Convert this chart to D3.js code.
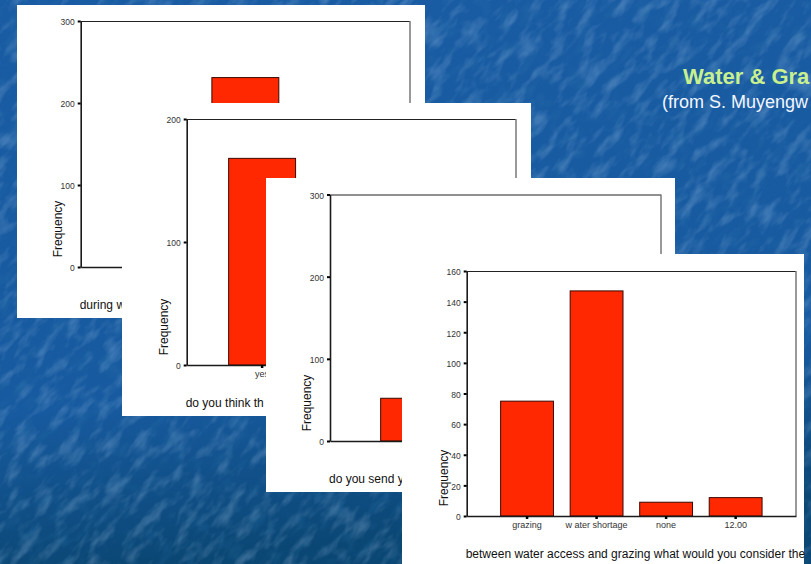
<!DOCTYPE html>
<html>
<head>
<meta charset="utf-8">
<script src="https://cdn.jsdelivr.net/npm/d3@7"></script>
<style>
  html, body { margin: 0; padding: 0; background: #1a5ca4; overflow: hidden; }
  svg { display: block; }
  text { font-family: "Liberation Sans", Arial, sans-serif; }
</style>
</head>
<body>
<svg id="chart" width="811" height="564"></svg>
<script>
// ---------- data ----------
const slideTitle = "Water & Gra";
const slideSubtitle = "(from S. Muyengw";

// chart 1 (back)
const c1Categories = ["c1", "c2", "c3"];
const c1Labels = ["", "", ""];
const c1Values = [12, 231, null];
const c1Ticks = [0, 100, 200, 300];
const c1Title = "during w";

// chart 2
const c2Categories = ["yes", "c2", "c3"];
const c2Labels = ["yes", "", ""];
const c2Values = [168, null, null];
const c2Ticks = [0, 100, 200];
const c2Title = "do you think th";

// chart 3
const c3Categories = ["c1", "c2"];
const c3Labels = ["", ""];
const c3Values = [52, null];
const c3Ticks = [0, 100, 200, 300];
const c3Title = "do you send y";

// chart 4 (front)
const c4Categories = ["grazing", "w ater shortage", "none", "12.00"];
const c4Labels = ["grazing", "w ater shortage", "none", "12.00"];
const c4Values = [75, 147, 9, 12];
const c4Ticks = [0, 20, 40, 60, 80, 100, 120, 140, 160];
const c4Title = "between water access and grazing what would you consider the";

// ---------- layout (styles / positions) ----------
const panels = [
  { cats: c1Categories, labels: c1Labels, vals: c1Values, ticks: c1Ticks, title: c1Title,
    card: [17, 5, 425, 318], plot: [80.7, 21, 410, 267], pi: 0.25, po: 0.47 },
  { cats: c2Categories, labels: c2Labels, vals: c2Values, ticks: c2Ticks, title: c2Title,
    card: [122, 103, 531, 416], plot: [186.7, 119, 516, 365], pi: 0.25, po: 0.47 },
  { cats: c3Categories, labels: c3Labels, vals: c3Values, ticks: c3Ticks, title: c3Title,
    card: [266, 178, 675, 492], plot: [330, 194.5, 661, 441], pi: 0.25, po: 0.386 },
  { cats: c4Categories, labels: c4Labels, vals: c4Values, ticks: c4Ticks, title: c4Title,
    card: [402, 254, 804, 570], plot: [466.7, 271, 796, 516], pi: 0.24, po: 0.488 }
];

const svg = d3.select("#chart");
const W = 811, H = 564;

// ---------- background ----------
const defs = svg.append("defs");
const grad = defs.append("linearGradient").attr("id", "bg").attr("x1", 0).attr("y1", 0).attr("x2", 0.15).attr("y2", 1);
grad.append("stop").attr("offset", "0").attr("stop-color", "#1a5ca3");
grad.append("stop").attr("offset", "0.72").attr("stop-color", "#175a9f");
grad.append("stop").attr("offset", "1").attr("stop-color", "#0b4775");

const f = defs.append("filter").attr("id", "tex").attr("x", 0).attr("y", 0).attr("width", 1).attr("height", 1);
f.append("feTurbulence").attr("type", "fractalNoise").attr("baseFrequency", "0.04 0.09")
  .attr("numOctaves", 3).attr("seed", 11).attr("result", "n");
f.append("feColorMatrix").attr("in", "n").attr("type", "matrix")
  .attr("values", "0 0 0 0 0.6  0 0 0 0 0.78  0 0 0 0 1  2.6 0 0 0 -1.2");

const f2 = defs.append("filter").attr("id", "tex2").attr("x", 0).attr("y", 0).attr("width", 1).attr("height", 1);
f2.append("feTurbulence").attr("type", "fractalNoise").attr("baseFrequency", "0.05 0.1")
  .attr("numOctaves", 2).attr("seed", 3).attr("result", "n");
f2.append("feColorMatrix").attr("in", "n").attr("type", "matrix")
  .attr("values", "0 0 0 0 0.03  0 0 0 0 0.2  0 0 0 0 0.42  -2.6 0 0 0 1.25");

svg.append("rect").attr("width", W).attr("height", H).attr("fill", "url(#bg)");
const texG = svg.append("g").attr("transform", "rotate(-50 405 282)");
texG.append("rect").attr("x", -500).attr("y", -500).attr("width", 1800).attr("height", 1600)
  .attr("filter", "url(#tex)").attr("opacity", 0.22);
texG.append("rect").attr("x", -500).attr("y", -500).attr("width", 1800).attr("height", 1600)
  .attr("filter", "url(#tex2)").attr("opacity", 0.25);

// ---------- panels ----------
panels.forEach(p => {
  const g = svg.append("g");
  const [cx0, cy0, cx1, cy1] = p.card;
  const [l, t, r, b] = p.plot;
  g.append("rect").attr("x", cx0).attr("y", cy0).attr("width", cx1 - cx0).attr("height", cy1 - cy0)
    .attr("fill", "#ffffff");

  const y = d3.scaleLinear().domain([0, d3.max(p.ticks)]).range([b, t]);
  const x = d3.scaleBand().domain(p.cats).range([l, r]).paddingInner(p.pi).paddingOuter(p.po);

  // frame top & right
  g.append("line").attr("x1", l).attr("x2", r).attr("y1", t + 0.5).attr("y2", t + 0.5)
    .attr("stroke", "#222").attr("stroke-width", 1);
  g.append("line").attr("x1", r).attr("x2", r).attr("y1", t).attr("y2", b)
    .attr("stroke", "#777").attr("stroke-width", 1.5);

  // bars
  const data = p.cats.map((c, i) => ({ c, v: p.vals[i] })).filter(d => d.v != null);
  g.selectAll("rect.bar").data(data).join("rect").attr("class", "bar")
    .attr("x", d => x(d.c)).attr("width", x.bandwidth())
    .attr("y", d => y(d.v)).attr("height", d => y(0) - y(d.v))
    .attr("fill", "#ff2800").attr("stroke", "#3a0800").attr("stroke-width", 1);

  // y axis
  const ya = g.append("g").attr("transform", `translate(${l},0)`)
    .call(d3.axisLeft(y).tickValues(p.ticks).tickSizeInner(3).tickSizeOuter(0).tickPadding(3).tickFormat(d3.format("d")));
  ya.select(".domain").attr("stroke", "#1a1a1a").attr("stroke-width", 1.6);
  ya.selectAll(".tick line").attr("stroke", "#000").attr("stroke-width", 2);
  ya.selectAll(".tick text").attr("font-size", 8.5).attr("fill", "#333").attr("dy", "0.45em")
    .attr("font-family", "Liberation Sans, Arial, sans-serif");

  // x axis
  const xa = g.append("g").attr("transform", `translate(0,${b})`)
    .call(d3.axisBottom(x).tickSizeInner(3).tickSizeOuter(0).tickPadding(3)
      .tickFormat((d, i) => p.labels[i]));
  xa.select(".domain").attr("stroke", "#1a1a1a").attr("stroke-width", 1.6);
  xa.selectAll(".tick line").attr("stroke", "#000").attr("stroke-width", 2.5);
  xa.selectAll(".tick text").attr("font-size", 9).attr("fill", "#333")
    .attr("font-family", "Liberation Sans, Arial, sans-serif");

  // axis titles
  g.append("text").attr("transform", `translate(${l - 19},${b - 38}) rotate(-90)`)
    .attr("text-anchor", "middle").attr("font-size", 12).attr("fill", "#111").text("Frequency");
  g.append("text").attr("x", l - 1).attr("y", b + 42)
    .attr("font-size", 12).attr("fill", "#111").text(p.title);
});

// ---------- slide title ----------
svg.append("text").attr("x", 683).attr("y", 84).attr("font-size", 22).attr("font-weight", "bold")
  .attr("fill", "#c8f08f").text(slideTitle);
svg.append("text").attr("x", 662).attr("y", 108).attr("font-size", 18)
  .attr("fill", "#f2f6ff").text(slideSubtitle);
</script>
</body>
</html>
